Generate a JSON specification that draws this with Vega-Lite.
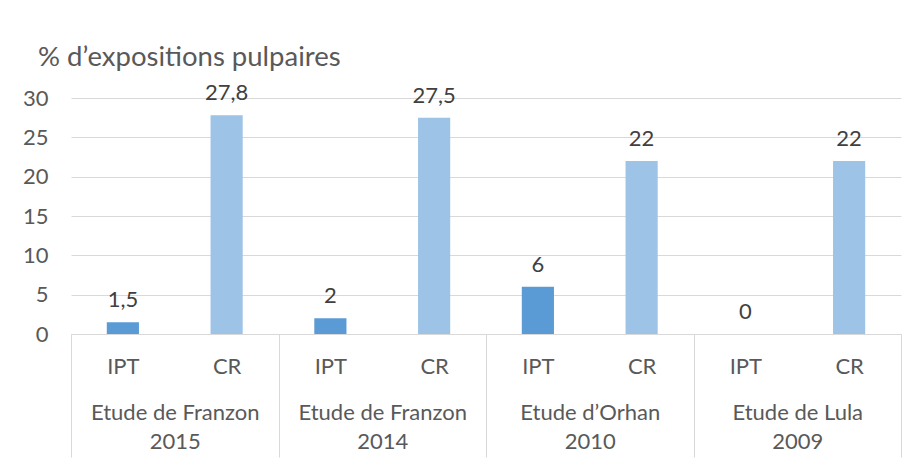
{
  "$schema": "https://vega.github.io/schema/vega-lite/v6.json",
  "autosize": {"type": "none"},
  "width": 830,
  "height": 236,
  "padding": {"left": 71, "top": 98, "right": 17, "bottom": 133},
  "background": "white",
  "title": {
    "text": "% d’expositions pulpaires",
    "anchor": "start",
    "frame": "group",
    "dx": -33,
    "offset": -3,
    "baseline": "middle",
    "fontSize": 27.5,
    "font": "Lato",
    "fontWeight": "normal",
    "color": "#595959"
  },
  "config": {
    "locale": {"number": {"decimal": ",", "thousands": ".", "grouping": [3], "currency": ["", " €"]}},
    "view": {"stroke": null}
  },
  "data": {
    "values": [
      {"group": "Etude de Franzon 2015", "sub": "IPT", "value": 1.5},
      {"group": "Etude de Franzon 2015", "sub": "CR", "value": 27.8},
      {"group": "Etude de Franzon 2014", "sub": "IPT", "value": 2},
      {"group": "Etude de Franzon 2014", "sub": "CR", "value": 27.5},
      {"group": "Etude d’Orhan 2010", "sub": "IPT", "value": 6},
      {"group": "Etude d’Orhan 2010", "sub": "CR", "value": 22},
      {"group": "Etude de Lula 2009", "sub": "IPT", "value": 0},
      {"group": "Etude de Lula 2009", "sub": "CR", "value": 22}
    ]
  },
  "transform": [{"calculate": "datum.group + '|' + datum.sub", "as": "key"}],
  "layer": [
    {
      "mark": {"type": "bar"},
      "encoding": {
        "x": {
          "field": "group", "type": "nominal", "sort": null,
          "scale": {"paddingInner": 0, "paddingOuter": 0},
          "axis": {
            "orient": "bottom",
            "title": null, "tickBand": "extent", "tickSize": 123, "tickColor": "#d9d9d9",
            "domainColor": "#d9d9d9", "labelAngle": 0,
            "labelExpr": "[slice(datum.label, 0, -5), slice(datum.label, -4)]",
            "labelFontSize": 22, "labelFont": "Lato", "labelColor": "#595959",
            "labelPadding": -45, "labelBaseline": "middle", "labelLineHeight": 29,
            "labelLimit": 0, "labelOverlap": false, "labelFlush": false
          }
        },
        "xOffset": {"field": "sub", "type": "nominal", "sort": ["IPT", "CR"], "scale": {"paddingInner": 0.69, "paddingOuter": 0.345}},
        "y": {
          "field": "value", "type": "quantitative",
          "scale": {"domain": [0, 30], "nice": false},
          "axis": {
            "title": null, "values": [0, 5, 10, 15, 20, 25, 30], "grid": true, "gridColor": "#d9d9d9",
            "domain": false, "ticks": false, "labelPadding": 23, "labelFontSize": 22,
            "labelFont": "Lato", "labelColor": "#595959", "labelOverlap": false
          }
        },
        "color": {"field": "sub", "type": "nominal", "scale": {"domain": ["IPT", "CR"], "range": ["#5B9BD5", "#9DC3E6"]}, "legend": null}
      }
    },
    {
      "mark": {"type": "text", "baseline": "middle", "dy": -22, "font": "Lato", "fontSize": 22, "color": "#404040"},
      "encoding": {
        "x": {
          "field": "key", "type": "nominal", "sort": null,
          "scale": {"paddingInner": 0, "paddingOuter": 0},
          "axis": {
            "orient": "bottom",
            "title": null, "ticks": false, "domain": false, "labelAngle": 0,
            "labelExpr": "split(datum.label, '|')[1]",
            "labelPadding": 32, "labelBaseline": "middle", "labelFontSize": 22,
            "labelFont": "Lato", "labelColor": "#595959", "labelOverlap": false, "labelFlush": false
          }
        },
        "y": {
          "field": "value", "type": "quantitative",
          "scale": {"domain": [0, 30], "nice": false},
          "axis": {
            "title": null, "values": [0, 5, 10, 15, 20, 25, 30], "grid": true, "gridColor": "#d9d9d9",
            "domain": false, "ticks": false, "labelPadding": 23, "labelFontSize": 22,
            "labelFont": "Lato", "labelColor": "#595959", "labelOverlap": false
          }
        },
        "text": {"field": "value", "type": "quantitative", "format": "~r"}
      }
    }
  ],
  "resolve": {"scale": {"x": "independent"}, "axis": {"x": "independent"}}
}
